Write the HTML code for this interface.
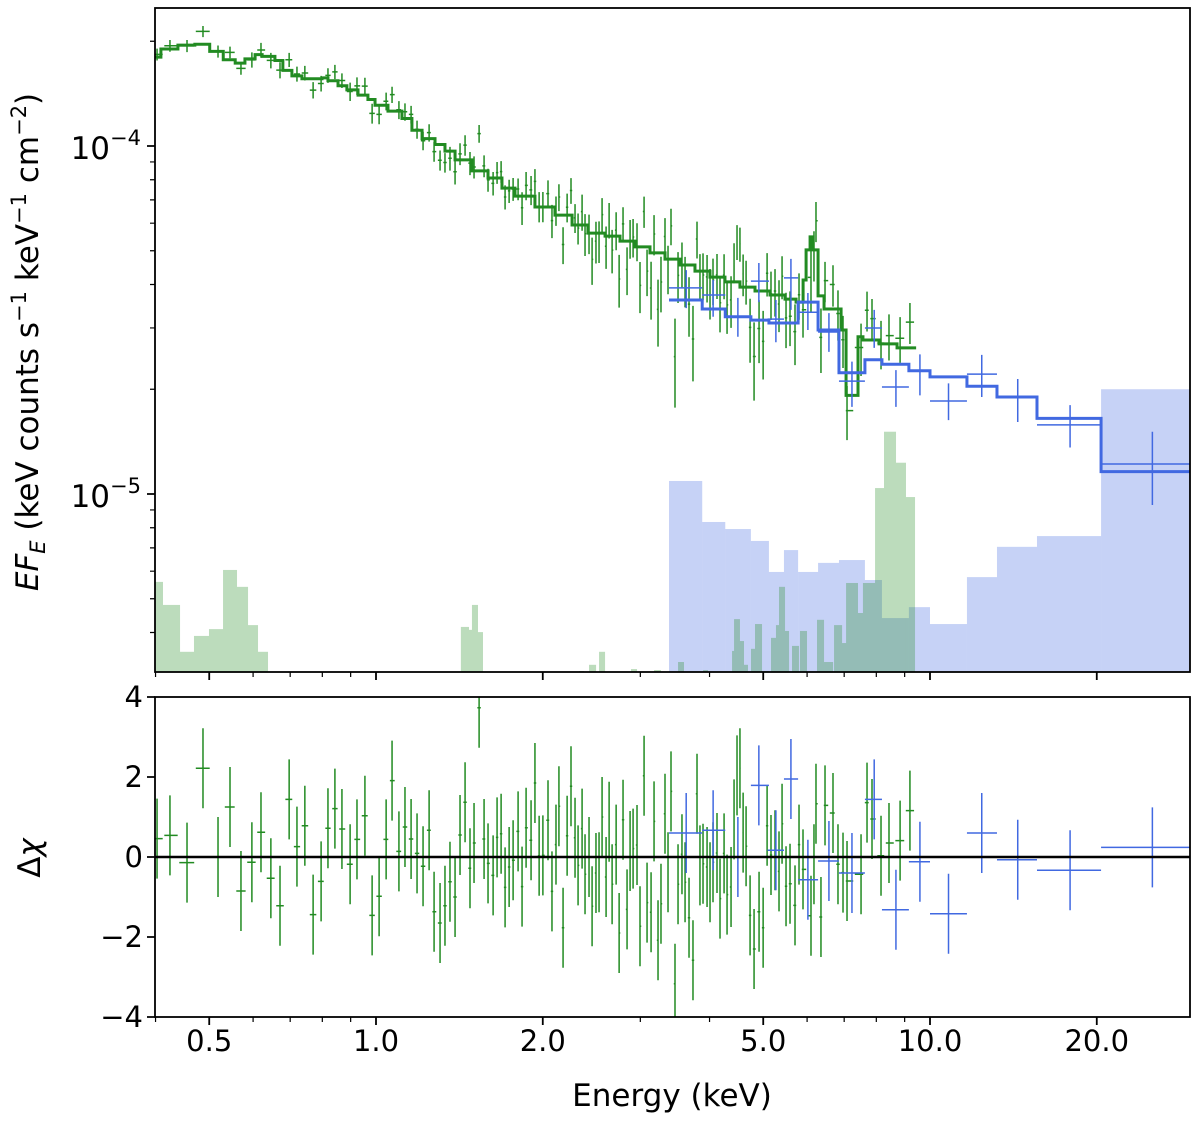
<!DOCTYPE html>
<html><head><meta charset="utf-8"><style>
html,body{margin:0;padding:0;background:#fff;}
svg text{font-family:"DejaVu Sans","Liberation Sans",sans-serif;fill:#000;}
</style></head><body>
<svg id="chart" xmlns="http://www.w3.org/2000/svg" width="1200" height="1119" viewBox="0 0 1200 1119">
<defs>
<clipPath id="clipTop"><rect x="155" y="8" width="1035" height="664"/></clipPath>
<clipPath id="clipBot"><rect x="155" y="697" width="1035" height="320"/></clipPath>
</defs>
<g id="topBg" clip-path="url(#clipTop)"></g>
<g id="topLines" clip-path="url(#clipTop)"></g>
<g id="botG" clip-path="url(#clipBot)"></g>
<g id="axes"></g>
<text transform="translate(38,342) rotate(-90)" text-anchor="middle" font-size="31"><tspan font-style="italic">EF</tspan><tspan font-style="italic" font-size="21" dy="7">E</tspan><tspan dy="-7"> (keV counts s</tspan><tspan font-size="21" dy="-12">−1</tspan><tspan dy="12"> keV</tspan><tspan font-size="21" dy="-12">−1</tspan><tspan dy="12"> cm</tspan><tspan font-size="21" dy="-12">−2</tspan><tspan dy="12">)</tspan></text>
<text transform="translate(40,858) rotate(-90)" text-anchor="middle" font-size="31">Δ<tspan font-style="italic">χ</tspan></text>
<text x="672" y="1106" text-anchor="middle" font-size="31">Energy (keV)</text>
</svg>
<script>
// ---- data ----
const greenModelEdges=[0.399,0.409,0.439,0.471,0.501,0.530,0.557,0.580,0.605,0.623,0.657,0.679,0.705,0.735,0.799,0.819,0.854,0.886,0.928,0.967,0.996,1.051,1.114,1.161,1.211,1.278,1.332,1.389,1.490,1.593,1.688,1.782,1.936,2.104,2.259,2.413,2.591,2.757,2.934,3.123,3.324,3.538,3.765,4.007,4.265,4.539,4.832,5.143,5.474,5.731,5.901,5.975,6.075,6.151,6.280,6.438,6.910,7.055,7.414,7.568,8.09,8.72,9.44];
const greenModelF=[1.80e-4,1.90e-4,1.95e-4,1.96e-4,1.87e-4,1.77e-4,1.73e-4,1.78e-4,1.83e-4,1.81e-4,1.76e-4,1.65e-4,1.59e-4,1.56e-4,1.57e-4,1.54e-4,1.49e-4,1.45e-4,1.40e-4,1.36e-4,1.31e-4,1.26e-4,1.20e-4,1.11e-4,1.05e-4,1.01e-4,9.67e-5,9.12e-5,8.48e-5,8.09e-5,7.57e-5,7.18e-5,6.68e-5,6.33e-5,5.93e-5,5.62e-5,5.51e-5,5.33e-5,5.13e-5,4.93e-5,4.73e-5,4.55e-5,4.37e-5,4.20e-5,4.07e-5,3.93e-5,3.83e-5,3.73e-5,3.63e-5,3.56e-5,4.12e-5,5.03e-5,5.48e-5,5.03e-5,3.71e-5,3.40e-5,2.96e-5,1.92e-5,2.83e-5,2.77e-5,2.70e-5,2.63e-5];
const blueModelEdges=[3.38,3.88,4.27,4.75,5.12,5.78,6.28,6.85,7.63,8.19,9.16,10.0,11.66,13.21,15.6,20.36,29.5];
const blueModelF=[3.61e-5,3.40e-5,3.23e-5,3.16e-5,3.10e-5,3.56e-5,2.96e-5,2.23e-5,2.43e-5,2.36e-5,2.26e-5,2.17e-5,2.04e-5,1.90e-5,1.65e-5,1.16e-5];
const blueBgEdges=[3.38,3.88,4.27,4.75,5.12,5.45,5.78,6.28,6.85,7.63,8.19,9.16,10.0,11.66,13.21,15.6,20.36,29.5];
const blueBgF=[1.09e-5,8.31e-6,7.93e-6,7.33e-6,5.97e-6,6.90e-6,5.97e-6,6.34e-6,6.46e-6,5.66e-6,4.40e-6,4.73e-6,4.23e-6,5.77e-6,7.05e-6,7.57e-6,2.00e-5];
const greenBgLo=[0.399,0.4126,0.4429,0.4693,0.4995,0.5295,0.5612,0.5875,0.6124,1.423,1.472,1.490,1.528,2.325,2.424,2.527,2.886,3.176,3.509,3.894,4.392,4.429,4.539,4.616,4.752,4.832,5.017,5.164,5.272,5.339,5.474,5.635,5.825,6.252,6.438,6.711,6.939,7.055,7.414,7.568,7.958,8.26,8.683,9.05];
const greenBgHi=[0.4126,0.4429,0.4693,0.4995,0.5295,0.5612,0.5875,0.6124,0.6384,1.472,1.490,1.528,1.560,2.374,2.496,2.591,2.959,3.269,3.597,3.975,4.429,4.539,4.616,4.693,4.832,4.975,5.122,5.272,5.339,5.474,5.566,5.801,5.998,6.438,6.684,6.939,7.055,7.414,7.568,7.958,8.26,8.683,9.05,9.397];
const greenBgF=[5.59e-6,4.80e-6,3.52e-6,3.91e-6,4.09e-6,6.05e-6,5.41e-6,4.20e-6,3.52e-6,4.15e-6,4.07e-6,4.80e-6,4.01e-6,3.10e-6,3.23e-6,3.52e-6,3.14e-6,3.12e-6,3.29e-6,3.12e-6,3.54e-6,4.37e-6,3.78e-6,3.23e-6,3.59e-6,4.23e-6,3.10e-6,3.86e-6,4.20e-6,5.41e-6,4.04e-6,3.66e-6,4.04e-6,4.35e-6,3.29e-6,4.20e-6,3.73e-6,5.55e-6,4.55e-6,5.55e-6,1.04e-5,1.51e-5,1.23e-5,9.80e-6];
const blueE=[3.63,4.06,4.50,4.91,5.27,5.61,6.02,6.57,7.23,7.93,8.68,9.59,10.8,12.4,14.4,17.9,25.2];
const blueElo=[3.38,3.88,4.27,4.75,5.09,5.45,5.78,6.28,6.85,7.63,8.19,9.16,10.0,11.66,13.21,15.6,20.36];
const blueEhi=[3.88,4.27,4.75,5.12,5.45,5.78,6.28,6.85,7.63,8.19,9.16,10.0,11.66,13.21,15.6,20.36,29.5];
const blueF=[3.91e-5,3.73e-5,3.23e-5,4.09e-5,3.18e-5,4.18e-5,3.33e-5,2.92e-5,2.11e-5,3.00e-5,2.03e-5,2.26e-5,1.85e-5,2.21e-5,1.90e-5,1.58e-5,1.22e-5];
const blueFlo=[3.42e-5,3.23e-5,2.83e-5,3.56e-5,2.73e-5,3.38e-5,2.96e-5,2.56e-5,1.78e-5,2.63e-5,1.78e-5,1.92e-5,1.63e-5,1.90e-5,1.61e-5,1.36e-5,9.3e-6];
const blueFhi=[4.40e-5,4.12e-5,3.66e-5,4.61e-5,3.61e-5,4.74e-5,3.78e-5,3.31e-5,2.40e-5,3.38e-5,2.27e-5,2.52e-5,2.08e-5,2.51e-5,2.14e-5,1.80e-5,1.51e-5];
const blueResid=[0.6,0.67,0.0,1.79,0.17,1.95,-0.57,-0.1,-0.4,1.44,-1.32,-0.12,-1.42,0.6,-0.07,-0.33,0.24];
const greenE=[0.4025,0.4247,0.4559,0.4872,0.5186,0.5451,0.5705,
0.597,0.620,0.646,0.671,0.697,0.720,0.744,0.770,0.796,0.819,0.843,0.868,
0.898,0.924,0.955,0.984,1.013,1.043,1.069,1.100,1.128,1.157,1.186,1.216,1.247,1.273,1.305,1.332,
1.360,1.389,1.418,1.448,1.478,1.503,1.535,1.567,1.593,1.627,1.654,1.682,1.710,1.739,1.768,1.805,
1.835,1.866,1.905,1.936,1.970,2.001,2.044,2.078,2.113,2.139,2.176,2.213,2.249,2.287,2.316,
2.355,2.384,2.424,2.455,2.495,2.527,2.559,2.602,2.635,2.668,2.713,2.747,2.792,2.839,2.875,2.911,2.959,2.996,3.047,3.085,
3.137,3.176,3.229,3.269,3.324,3.366,3.408,3.465,3.509,3.567,3.613,3.673,3.734,3.797,3.844,3.893,3.959,4.008,4.058,4.126,4.178,4.249,4.302,4.374,4.429,4.484,4.539,4.599,4.656,
4.734,4.813,4.914,4.998,5.081,5.164,5.251,5.339,5.407,5.497,5.589,5.706,5.802,5.899,6.098,6.174,6.226,6.356,6.464,6.682,6.822,6.966,7.083,7.508,7.697,7.858,8.158,8.433,8.831,9.200];
const greenResid=[0.46,0.54,-0.14,2.22,0.0,1.25,-0.85,
-0.13,0.62,-0.53,-1.22,1.44,0.26,0.78,-1.44,-0.61,0.72,1.21,0.7,
-0.18,0.44,1.03,-1.46,-0.98,0.44,1.91,0.14,0.75,0.45,0.09,-0.23,0.67,-1.37,-1.65,-1.22,
-0.62,-1.0,0.55,1.37,-0.28,0.35,3.73,0.45,-0.16,-0.46,0.49,0.58,-0.76,-0.25,-0.08,0.64,
-0.74,0.73,0.42,1.85,0.03,0.04,0.92,-0.86,0.31,1.27,-1.77,0.53,1.77,0.48,-0.21,
0.71,-0.43,0.0,-1.23,-0.4,-0.38,1.0,-0.5,0.88,-0.68,0.31,-1.9,0.93,-1.31,0.15,0.21,0.3,-1.73,2.03,-1.14,
-1.38,0.89,-2.08,-1.17,1.08,-0.38,1.64,-3.17,-0.68,0.07,-0.63,-1.52,-2.58,1.58,-0.21,-0.17,-0.25,-0.63,-0.13,0.1,-1.04,0.09,-0.94,-0.75,0.94,2.04,2.22,0.61,0.27,
-1.46,-2.3,-1.37,-1.77,0.78,0.05,0.17,-0.36,0.83,-0.73,-0.67,-1.21,0.31,-0.31,-1.47,-0.18,1.33,-1.5,1.29,1.1,-0.18,-0.39,-0.6,-0.43,1.36,0.95,0.03,0.35,0.41,1.16];
const greenRelErr=[0.04,0.04,0.04,0.04,0.04,0.04,0.04,
0.05,0.05,0.05,0.05,0.05,0.05,0.05,0.05,0.05,0.05,0.05,0.05,
0.06,0.06,0.06,0.06,0.06,0.06,0.06,0.06,0.06,0.06,0.06,0.06,0.06,0.06,0.06,0.06,
0.075,0.075,0.075,0.075,0.075,0.075,0.075,0.075,0.075,0.075,0.075,0.075,0.075,0.075,0.075,0.075,
0.1,0.1,0.1,0.1,0.1,0.1,0.1,0.1,0.1,0.1,0.1,0.1,0.1,0.1,0.1,
0.13,0.13,0.13,0.13,0.13,0.13,0.13,0.13,0.13,0.13,0.13,0.13,0.13,0.13,0.13,0.13,0.13,0.13,0.13,0.13,
0.15,0.15,0.15,0.15,0.15,0.15,0.15,0.15,0.15,0.15,0.15,0.15,0.15,0.15,0.15,0.15,0.15,0.15,0.15,0.15,0.15,0.15,0.15,0.15,0.15,0.15,0.15,0.15,0.15,
0.16,0.16,0.16,0.16,0.16,0.16,0.16,0.16,0.16,0.16,0.16,0.16,0.16,0.16,0.16,0.16,0.16,0.16,0.16,0.16,0.16,0.16,0.16,0.16,0.16,0.16,0.16,0.16,0.16,0.16];
const xMajorTicks=[0.5,1,2,5,10,20];
const xTickLabels=["0.5","1.0","2.0","5.0","10.0","20.0"];
const xMinorTicks=[0.4,0.6,0.7,0.8,0.9,3,4,6,7,8,9];
const yTopMajor=[1e-4,1e-5];
const yTopMajorExp=["−4","−5"];
const yTopMinor=[2e-4,9e-5,8e-5,7e-5,6e-5,5e-5,4e-5,3e-5,2e-5,9e-6,8e-6,7e-6,6e-6,5e-6,4e-6];
const yBotTicks=[-4,-2,0,2,4];
const yBotLabels=["−4","−2","0","2","4"];

// ---- scales ----
const L=155,R=1190,T1=8,B1=672,T2=697,B2=1017;
function xs(E){return 376+554*Math.log10(E);}
function yt(F){return 146-348*(Math.log10(F)+4);}
function yb(r){return 857-40*r;}
const NS="http://www.w3.org/2000/svg";
function mk(tag,attrs,parent){const e=document.createElementNS(NS,tag);for(const k in attrs)e.setAttribute(k,attrs[k]);parent.appendChild(e);return e;}
const topBg=document.getElementById('topBg'),topLines=document.getElementById('topLines'),botG=document.getElementById('botG'),axes=document.getElementById('axes');
const GREEN="#228b22",BLUE="#4169e1";

for(let i=0;i<blueBgF.length;i++){
  const x0=xs(blueBgEdges[i]),x1=xs(blueBgEdges[i+1]),y=yt(blueBgF[i]);
  const r=mk('rect',{x:x0,y:y,width:x1-x0,height:B1-y+2,fill:BLUE,'fill-opacity':0.3},topBg);
  
  
}
for(let i=0;i<greenBgF.length;i++){
  const x0=xs(greenBgLo[i]),x1=xs(greenBgHi[i]),y=yt(greenBgF[i]);
  const r=mk('rect',{x:x0,y:y,width:x1-x0,height:B1-y+2,fill:GREEN,'fill-opacity':0.3},topBg);
  
  
}
function stepPath(edges,vals){
  let d='M'+xs(edges[0])+','+yt(vals[0]);
  for(let i=0;i<vals.length;i++){
    if(i>0)d+='V'+yt(vals[i]);
    d+='H'+xs(edges[i+1]);
  }
  return d;
}
function modelAt(E){
  for(let i=0;i<greenModelF.length;i++){if(E>=greenModelEdges[i]&&E<greenModelEdges[i+1])return greenModelF[i];}
  return greenModelF[greenModelF.length-1];
}
const gEdges=[];
for(let i=0;i<=greenE.length;i++){
  let lg;
  if(i===0)lg=Math.log10(greenE[0])-(Math.log10(greenE[1])-Math.log10(greenE[0]))/2;
  else if(i===greenE.length)lg=Math.log10(greenE[i-1])+(Math.log10(greenE[i-1])-Math.log10(greenE[i-2]))/2;
  else lg=(Math.log10(greenE[i-1])+Math.log10(greenE[i]))/2;
  gEdges.push(lg);
}
let gd='';
for(let i=0;i<greenE.length;i++){
  const m=modelAt(greenE[i]),s=m*greenRelErr[i],F=m+greenResid[i]*s;
  const x=xs(greenE[i]),xa=376+554*gEdges[i]+0.8,xb=376+554*gEdges[i+1]-0.8;
  gd+='M'+xa+','+yt(F)+'H'+xb+'M'+x+','+yt(F+s)+'V'+yt(Math.max(F-s,1e-7));
}
const gdp=mk('path',{d:gd,stroke:GREEN,'stroke-width':1.5,fill:'none'},topLines);


const gm=mk('path',{d:stepPath(greenModelEdges,greenModelF),stroke:GREEN,'stroke-width':3,fill:'none'},topLines);


let bd='';
for(let i=0;i<blueE.length;i++){
  bd+='M'+xs(blueElo[i])+','+yt(blueF[i])+'H'+xs(blueEhi[i])+'M'+xs(blueE[i])+','+yt(blueFhi[i])+'V'+yt(blueFlo[i]);
}
const bdp=mk('path',{d:bd,stroke:BLUE,'stroke-width':1.5,fill:'none'},topLines);


const bm=mk('path',{d:stepPath(blueModelEdges,blueModelF),stroke:BLUE,'stroke-width':3,fill:'none'},topLines);



let rg='';
for(let i=0;i<greenE.length;i++){
  const x=xs(greenE[i]),xa=376+554*gEdges[i]+0.8,xb=376+554*gEdges[i+1]-0.8,y=yb(greenResid[i]);
  rg+='M'+xa+','+y+'H'+xb+'M'+x+','+yb(greenResid[i]+1)+'V'+yb(greenResid[i]-1);
}
const rgp=mk('path',{d:rg,stroke:GREEN,'stroke-width':1.5,fill:'none'},botG);


let rb='';
for(let i=0;i<blueE.length;i++){
  const y=yb(blueResid[i]);
  rb+='M'+xs(blueElo[i])+','+y+'H'+xs(blueEhi[i])+'M'+xs(blueE[i])+','+yb(blueResid[i]+1)+'V'+yb(blueResid[i]-1);
}
const rbp=mk('path',{d:rb,stroke:BLUE,'stroke-width':1.5,fill:'none'},botG);


const zl=mk('line',{x1:L,x2:R,y1:yb(0),y2:yb(0),stroke:'#000','stroke-width':2.5},botG);



const f1=mk('rect',{x:L,y:T1,width:R-L,height:B1-T1,fill:'none',stroke:'#000','stroke-width':1.8},axes);


const f2=mk('rect',{x:L,y:T2,width:R-L,height:B2-T2,fill:'none',stroke:'#000','stroke-width':1.8},axes);


let tk='';
for(const E of xMajorTicks){const x=xs(E);tk+='M'+x+','+B1+'v8M'+x+','+B2+'v8';}
let tkm='';
for(const E of xMinorTicks){const x=xs(E);if(x<L-0.5)continue;tkm+='M'+x+','+B1+'v5M'+x+','+B2+'v5';}
for(const F of yTopMajor){tk+='M'+L+','+yt(F)+'h-8';}
for(const F of yTopMinor){const y=yt(F);if(y<T1||y>B1)continue;tkm+='M'+L+','+y+'h-5';}
for(const v of yBotTicks){tk+='M'+L+','+yb(v)+'h-8';}
const tp=mk('path',{d:tk,stroke:'#000','stroke-width':1.8},axes);


const tpm=mk('path',{d:tkm,stroke:'#000','stroke-width':1.2},axes);


for(let i=0;i<xMajorTicks.length;i++){
  const t=mk('text',{x:xs(xMajorTicks[i]),y:1051,'text-anchor':'middle','font-size':29},axes);
  t.textContent=xTickLabels[i];
  
  
}
for(let i=0;i<yTopMajor.length;i++){
  const t=mk('text',{x:141,y:yt(yTopMajor[i])+13,'text-anchor':'end','font-size':31},axes);
  
  
  const a=mk('tspan',{},t);a.textContent='10';
  const b=mk('tspan',{'font-size':21,dy:-14},t);b.textContent=yTopMajorExp[i];
}
for(let i=0;i<yBotTicks.length;i++){
  const t=mk('text',{x:143,y:yb(yBotTicks[i])+10,'text-anchor':'end','font-size':29},axes);
  t.textContent=yBotLabels[i];
  
  
}
</script>
</body></html>
